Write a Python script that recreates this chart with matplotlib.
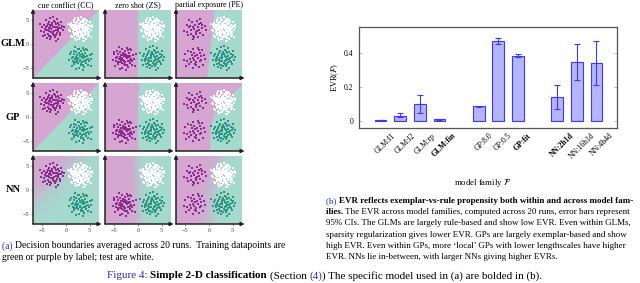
import numpy as np
import matplotlib.pyplot as plt

plt.rcParams['font.family'] = ['Liberation Serif', 'DejaVu Serif']
plt.rcParams['mathtext.fontset'] = 'stix'

# ---- bar chart data (b) ----
models = ['GLM:l1', 'GLM:l2', 'GLM:rp', 'GLM:fin', 'GP:8.0', 'GP:0.5', 'GP:fit',
          'NN:2h1d', 'NN:16h1d', 'NN:4h4d']
bold_models = ['GLM:fin', 'GP:fit', 'NN:2h1d']
x_pos = [0, 1, 2, 3, 5, 6, 7, 9, 10, 11]
evr = [0.002, 0.029, 0.096, 0.007, 0.086, 0.469, 0.382, 0.137, 0.347, 0.339]
evr_lo = [0.001, 0.020, 0.043, 0.005, 0.083, 0.449, 0.375, 0.067, 0.239, 0.208]
evr_hi = [0.003, 0.047, 0.151, 0.009, 0.089, 0.488, 0.390, 0.208, 0.449, 0.467]

# ---- decision boundary panels (a) ----
row_names = ['GLM', 'GP', 'NN']
col_names = ['cue conflict (CC)', 'zero shot (ZS)', 'partial exposure (PE)']

# hand-read cluster shapes (offsets from cluster centre)
offs_a = [(0.3, -0.5), (-1.2, 0.4), (0.8, 1.1), (-0.4, -1.3), (1.5, 0.2), (-0.9, -0.2), (0.1, 0.9),
          (-1.7, 1.0), (0.6, -1.6), (1.1, -0.7), (-0.2, 0.1), (2.1, 0.8), (-1.4, -1.1), (0.4, 1.8),
          (-0.7, 1.5), (1.3, 1.4), (-2.2, -0.3), (0.9, -0.1), (-0.5, -2.0), (1.8, -1.2), (-1.0, 0.8),
          (0.2, -0.9), (-0.3, 0.6), (1.6, 0.9), (-1.6, -0.6), (0.7, 0.4), (-0.8, -0.9), (2.4, -0.2),
          (-0.1, -1.5), (1.0, 2.1), (-1.3, 1.9), (0.5, -0.3), (-2.0, 0.5), (1.2, -1.9), (-0.6, 0.2),
          (0.0, 1.3), (1.9, 0.3), (-1.1, -1.7), (0.8, -1.1), (-0.4, 2.3), (1.4, -0.4), (-1.9, -1.4),
          (0.3, 0.5), (-0.9, 1.1), (2.0, 1.6), (-0.2, -0.6), (1.1, 0.6), (-1.5, 0.0), (0.6, 1.5),
          (-0.7, -0.4), (0.9, -2.3), (-2.5, 1.2), (1.7, -0.8), (-0.3, 1.0), (0.4, -1.2), (-1.2, -0.1),
          (1.3, 0.0), (-0.6, -1.4), (0.2, 2.6), (2.6, 0.4)]
offs_b = [(-0.4, 0.2), (1.0, -0.6), (-0.9, 1.3), (0.5, 0.8), (-1.6, -0.5), (0.2, -1.4), (1.4, 0.5),
          (-0.1, -0.3), (0.8, 1.7), (-1.2, -1.2), (2.2, -0.1), (-0.6, 0.7), (0.3, -0.8), (-2.1, 0.9),
          (1.1, 1.2), (-0.3, -1.9), (0.7, 0.1), (-1.0, 0.0), (1.7, -1.3), (-0.5, 1.9), (0.0, 0.5),
          (-1.8, -1.6), (1.3, -0.3), (-0.8, -0.7), (0.6, 2.2), (2.0, 0.7), (-1.4, 1.6), (0.1, -1.1),
          (-0.2, 1.1), (1.5, 1.8), (-2.4, -0.2), (0.9, -1.8), (-0.7, -0.1), (0.4, 0.3), (-1.1, 2.4),
          (1.8, -0.6), (-0.4, -1.0), (0.2, 1.5), (-1.5, 0.4), (1.2, -1.0), (-0.9, -2.2), (2.5, 1.0),
          (-0.1, 0.8), (0.8, -0.4), (-1.3, -0.8), (0.5, -2.4), (1.0, 0.3), (-2.0, 1.4), (0.3, 1.0),
          (-0.6, -0.5), (1.6, 0.0), (-0.3, 2.0), (0.6, -1.3), (-1.7, 0.2), (1.2, 2.0), (-0.8, 0.4),
          (2.3, -1.5), (0.0, -0.6), (-1.2, 1.0), (0.9, 0.6)]

# clusters per column: (centre, offsets, kind)
clusters = [
    [((-3, 3), offs_a, 'p'), ((3, -3), offs_b, 'g'), ((3, 3), offs_a + offs_b, 'w')],
    [((-3, -3), offs_b, 'p'), ((3, -3), offs_a, 'g'), ((3, 3), offs_a + offs_b, 'w')],
    [((-3, 3), offs_a[:32], 'p'), ((-3, -3), offs_b[:32], 'p'), ((3, -3), offs_a, 'g'),
     ((3, 3), offs_a + offs_b, 'w')],
]

# boundary: x of boundary at given y, purple on the left; softness
bnd_y = [[[-7, 7], [-7, 7], [-7, 7]],
         [[-7, -2, 0, 2, 4, 7], [-7, 4, 7], [-7, -2, 1, 3.5, 7]],
         [[-7, 7], [-7, 7], [-7, 0, 7]]]
bnd_x = [[[-7, 7], [0, 0], [-0.3, 1.2]],
         [[-7, -2, 0, 1.8, 4.2, 7], [0, 0, 0.3], [0.2, 0.4, 1.4, 3.7, 7.5]],
         [[-11.5, 2.5], [0.3, -0.4], [0.0, 0.6, 2.5]]]
soft = [[0.04, 0.04, 0.04], [0.04, 0.04, 0.04], [1.8, 0.6, 0.9]]

purple_bg = np.array([214, 166, 210]) / 255
teal_bg = np.array([164, 218, 204]) / 255
pt_col = {'p': '#8e2b8e', 'g': '#2b9684', 'w': 'white'}

W, H = 640, 283
fig = plt.figure(figsize=(6.4, 2.83), dpi=100)


def px_rect(x0, y0, x1, y1):
    return [x0 / W, 1 - y1 / H, (x1 - x0) / W, (y1 - y0) / H]


col_x = [(33, 99), (105, 171), (176, 242)]
row_y = [(10, 78), (83, 151), (156, 224)]
gx = np.linspace(-7, 7, 240)
GX, GY = np.meshgrid(gx, gx)

for r in range(3):
    for c in range(3):
        ax = fig.add_axes(px_rect(col_x[c][0], row_y[r][0], col_x[c][1], row_y[r][1]))
        g = np.interp(GY, bnd_y[r][c], bnd_x[r][c])
        p = 1 / (1 + np.exp(-(g - GX) / soft[r][c]))
        img = p[..., None] * purple_bg + (1 - p[..., None]) * teal_bg
        ax.imshow(img, extent=(-7, 7, -7, 7), origin='lower', aspect='auto', zorder=0)
        for (cx, cy), offs, kind in clusters[c]:
            pts = np.array(offs)
            ax.scatter(cx + pts[:, 0], cy + pts[:, 1], s=0.8, marker='s',
                       color=pt_col[kind], linewidths=0, zorder=2)
        ax.set_xlim(-7, 7)
        ax.set_ylim(-7, 7)
        for s in ax.spines.values():
            s.set_visible(False)
        ax.set_xticks([-5, 0, 5])
        ax.set_yticks([-5, 0, 5])
        ax.tick_params(length=1.5, width=0.4, labelsize=4.5, pad=1.5, colors='#444')
        if c > 0:
            ax.set_yticklabels([])
            ax.tick_params(axis='y', length=0)
        else:
            ax.set_yticklabels(['\u22125', '0', '5'])
        if r < 2:
            ax.set_xticklabels([])
            ax.tick_params(axis='x', length=0)
        else:
            ax.set_xticklabels(['\u22125', '0', '5'])
        arr = dict(arrowstyle='-|>', color='#222', lw=1.1, mutation_scale=5,
                   shrinkA=0, shrinkB=0)
        ax.annotate('', xy=(0, 1.02), xytext=(0, 0), xycoords='axes fraction', arrowprops=arr)
        ax.annotate('', xy=(1.04, 0), xytext=(0, 0), xycoords='axes fraction', arrowprops=arr)
        if r == 0:
            ax.set_title(col_names[c], fontsize=5.8, pad=2)
    fig.text(13 / W, 1 - (row_y[r][0] + row_y[r][1]) / 2 / H, row_names[r],
             fontsize=7.5, weight='bold', ha='center', va='center')

# ---- bar chart ----
ax = fig.add_axes(px_rect(359, 27, 617, 128))
err = [np.array(evr) - np.array(evr_lo), np.array(evr_hi) - np.array(evr)]
ax.bar(x_pos, evr, width=0.6, color='#b4b4ff', edgecolor='#3a3aff', linewidth=0.8, zorder=2)
ax.errorbar(x_pos, evr, yerr=err, fmt='none', ecolor='#3a3aff', elinewidth=0.8,
            capsize=2, capthick=0.8, zorder=3)
ax.set_xlim(-1.1, 12.05)
ax.set_ylim(-0.043, 0.551)
ax.set_yticks([0, 0.2, 0.4])
ax.set_yticklabels(['0', '0.2', '0.4'])
ax.tick_params(axis='y', direction='in', length=2.5, width=0.5, color='#999',
               labelsize=5.5, left=True, right=True, pad=4)
ax.set_xticks([])
for s in ax.spines.values():
    s.set_color('#555')
    s.set_linewidth(0.9)
for xp, m in zip(x_pos, models):
    ax.text(xp + 0.25, -0.065, m, rotation=45, ha='center', va='top', fontsize=5.6,
            weight='bold' if m in bold_models else 'normal')
ax.set_ylabel(r'EVR$(\mathcal{F})$', fontsize=6, labelpad=2)
fig.text(483 / W, 1 - 183 / H, r'model family $\mathcal{F}$', fontsize=6.3,
         ha='center', va='center')

# ---- captions ----
blue = '#2a2ab0'


def runs(x, y, parts, size):
    rend = fig.canvas.get_renderer()
    for s, w, col in parts:
        t = fig.text(x / W, 1 - y / H, s, fontsize=size, weight=w, color=col, va='center')
        x = t.get_window_extent(rend).x1


runs(2, 246, [('(a) ', 'normal', blue),
              ('Decision boundaries averaged across 20 runs.  Training datapoints are',
               'normal', 'black')], 6.9)
runs(2, 257, [('green or purple by label; test are white.', 'normal', 'black')], 6.9)

b_lines = [
    [('(b) ', 'normal', blue),
     ('EVR reflects exemplar-vs-rule propensity both within and across model fam-', 'bold', 'black')],
    [('ilies. ', 'bold', 'black'),
     ('The EVR across model families, computed across 20 runs, error bars represent', 'normal', 'black')],
    [('95% CIs. The GLMs are largely rule-based and show low EVR. Even within GLMs,', 'normal', 'black')],
    [('sparsity regularization gives lower EVR. GPs are largely exemplar-based and show', 'normal', 'black')],
    [('high EVR. Even within GPs, more \u2018local\u2019 GPs with lower lengthscales have higher', 'normal', 'black')],
    [('EVR. NNs lie in-between, with larger NNs giving higher EVRs.', 'normal', 'black')],
]
for i, parts in enumerate(b_lines):
    runs(326, 201 + i * 11.2, parts, 6.5)

runs(107, 276, [('Figure 4: ', 'normal', blue), ('Simple 2-D classification ', 'bold', 'black'),
                ('(Section ', 'normal', 'black'), ('(4)', 'normal', blue),
                (') The specific model used in (a) are bolded in (b).', 'normal', 'black')], 8.0)

fig.savefig('out.png', dpi=100)
